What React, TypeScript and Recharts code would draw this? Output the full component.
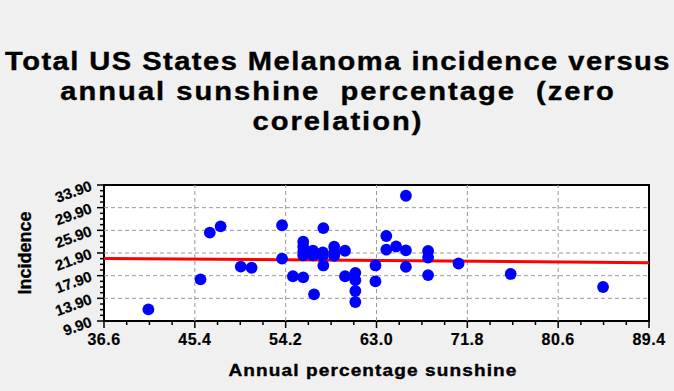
import React from "react";
import {
  ScatterChart,
  Scatter,
  XAxis,
  YAxis,
  CartesianGrid,
  ReferenceLine,
  ReferenceArea,
} from "recharts";

const TITLE_LINES = [
  "Total US States Melanoma incidence versus",
  "annual sunshine  percentage  (zero",
  "corelation)",
];
const X_LABEL = "Annual percentage sunshine";
const Y_LABEL = "Incidence";

// major tick labels
const X_MAJOR = [36.6, 45.4, 54.2, 63.0, 71.8, 80.6, 89.4];
const Y_MAJOR = [9.9, 13.9, 17.9, 21.9, 25.9, 29.9, 33.9];

const sunshine = [
  40.9, 45.95, 46.85, 47.9, 49.85, 50.9, 53.85, 53.85, 54.9, 55.9, 55.9, 55.9,
  55.9, 55.9, 56.85, 56.85, 56.95, 57.85, 57.85, 57.8, 57.8, 58.9, 58.9, 58.9,
  59.95, 59.95, 60.95, 60.95, 60.95, 60.95, 62.9, 62.9, 63.95, 63.95, 64.9,
  65.85, 65.85, 65.85, 68.0, 68.0, 68.0, 70.95, 76.0, 84.95,
];
const incidence = [
  11.95, 17.25, 25.5, 26.6, 19.5, 19.3, 26.8, 20.9, 17.8, 17.6, 23.9, 23.0,
  22.1, 21.5, 22.3, 21.5, 14.6, 26.3, 19.7, 22.0, 21.4, 23.0, 22.0, 21.4, 22.3,
  17.8, 18.4, 17.1, 15.2, 13.25, 19.7, 16.9, 24.9, 22.5, 23.05, 32.0, 22.35,
  19.45, 22.25, 21.1, 18.0, 20.05, 18.2, 15.9,
];

// fitted line end points
const fitX = [36.6, 89.4];
const fitY = [20.95, 20.2];

const points = sunshine.map((x, i) => ({ x, y: incidence[i] }));
const fitSegment = fitX.map((x, i) => ({ x, y: fitY[i] }));

// minor ticks: 3 between each pair of major ticks
const withMinors = (majors: number[]) => {
  const out: number[] = [];
  majors.forEach((m, i) => {
    out.push(m);
    if (i < majors.length - 1) {
      const step = (majors[i + 1] - m) / 4;
      for (let k = 1; k < 4; k++) out.push(m + step * k);
    }
  });
  return out;
};
const X_TICKS = withMinors(X_MAJOR);
const Y_TICKS = withMinors(Y_MAJOR);

const FONT = '"Liberation Sans", Arial, sans-serif';
const W = 674;
const H = 391;

const XTick = (props: any) => {
  const { x, y, index } = props;
  const major = index % 4 === 0;
  return (
    <g>
      <line x1={x} x2={x} y1={y} y2={y + (major ? 7 : 4)} stroke="#000" strokeWidth={1.5} />
      {major && (
        <text
          x={x}
          y={y + 24}
          textAnchor="middle"
          fontFamily={FONT}
          fontWeight="bold"
          fontSize={16}
          letterSpacing={0.5}
          stroke="#000"
          strokeWidth={0.2}
          fill="#000"
        >
          {X_MAJOR[index / 4].toFixed(1)}
        </text>
      )}
    </g>
  );
};

const YTick = (props: any) => {
  const { x, y, index } = props;
  const major = index % 4 === 0;
  const tx = x - 13;
  return (
    <g>
      <line x1={x} x2={x - (major ? 7 : 4)} y1={y} y2={y} stroke="#000" strokeWidth={1.5} />
      {major && (
        <text
          x={tx}
          y={y}
          dy="0.36em"
          textAnchor="end"
          transform={`rotate(-20, ${tx}, ${y})`}
          fontFamily={FONT}
          fontWeight="bold"
          fontSize={15}
          stroke="#000"
          strokeWidth={0.2}
          fill="#000"
        >
          {Y_MAJOR[index / 4].toFixed(2)}
        </text>
      )}
    </g>
  );
};

const Dot = (props: any) => (
  <circle cx={props.cx} cy={props.cy} r={5.9} fill="#0000ff" />
);

// wide, heavy bold text like the original's GDI rendering
const WideText = ({ x, y, size, spacing, children }: any) => (
  <text
    transform={`translate(${x}, ${y}) scale(1.12, 1)`}
    textAnchor="middle"
    fontFamily={FONT}
    fontWeight="bold"
    fontSize={size}
    letterSpacing={spacing}
    stroke="#000"
    strokeWidth={0.4}
    fill="#000"
    style={{ whiteSpace: "pre" }}
  >
    {children}
  </text>
);

export default function App() {
  return (
    <div
      style={{
        position: "absolute",
        left: 0,
        top: 0,
        width: W,
        height: H,
        background: "#f0f0f0",
        overflow: "hidden",
      }}
    >
      <svg width={W} height={H} style={{ position: "absolute", left: 0, top: 0 }}>
        {TITLE_LINES.map((t, i) => (
          <WideText
            key={i}
            x={W / 2 + 1}
            y={70 + i * 30}
            size={26}
            spacing={i === 0 ? 1.3 : 1.8}
          >
            {t}
          </WideText>
        ))}
        <WideText x={373} y={376} size={17} spacing={1}>
          {X_LABEL}
        </WideText>
        <text
          x={31}
          y={253}
          textAnchor="middle"
          transform="rotate(-90, 31, 253)"
          fontFamily={FONT}
          fontWeight="bold"
          fontSize={18}
          stroke="#000"
          strokeWidth={0.3}
          fill="#000"
        >
          {Y_LABEL}
        </text>
      </svg>
      <div style={{ position: "absolute", left: 0, top: 0 }}>
        <ScatterChart
          width={W}
          height={H}
          margin={{ top: 185, right: 25, bottom: 0, left: 0 }}
        >
          <CartesianGrid fill="#ffffff" horizontal={false} vertical={false} />
          <XAxis
            type="number"
            dataKey="x"
            domain={[X_MAJOR[0], X_MAJOR[X_MAJOR.length - 1]]}
            ticks={X_TICKS}
            interval={0}
            height={70}
            tickSize={0}
            tickMargin={0}
            tickLine={false}
            axisLine={false}
            tick={<XTick />}
            allowDataOverflow
          />
          <YAxis
            type="number"
            dataKey="y"
            domain={[Y_MAJOR[0], Y_MAJOR[Y_MAJOR.length - 1]]}
            ticks={Y_TICKS}
            interval={0}
            width={104}
            tickSize={0}
            tickMargin={0}
            tickLine={false}
            axisLine={false}
            tick={<YTick />}
            allowDataOverflow
          />
          {X_MAJOR.slice(1, -1).map((v) => (
            <ReferenceLine key={"x" + v} x={v} stroke="#999" strokeDasharray="4 3" />
          ))}
          {Y_MAJOR.slice(1, -1).map((v) => (
            <ReferenceLine key={"y" + v} y={v} stroke="#999" strokeDasharray="4 3" />
          ))}
          <Scatter data={points} shape={<Dot />} isAnimationActive={false} />
          <ReferenceLine
            segment={fitSegment}
            stroke="#ff0000"
            strokeWidth={3}
          />
          <ReferenceArea
            x1={X_MAJOR[0]}
            x2={X_MAJOR[X_MAJOR.length - 1]}
            y1={Y_MAJOR[0]}
            y2={Y_MAJOR[Y_MAJOR.length - 1]}
            fill="none"
            stroke="#000"
            strokeWidth={2}
          />
        </ScatterChart>
      </div>
    </div>
  );
}
